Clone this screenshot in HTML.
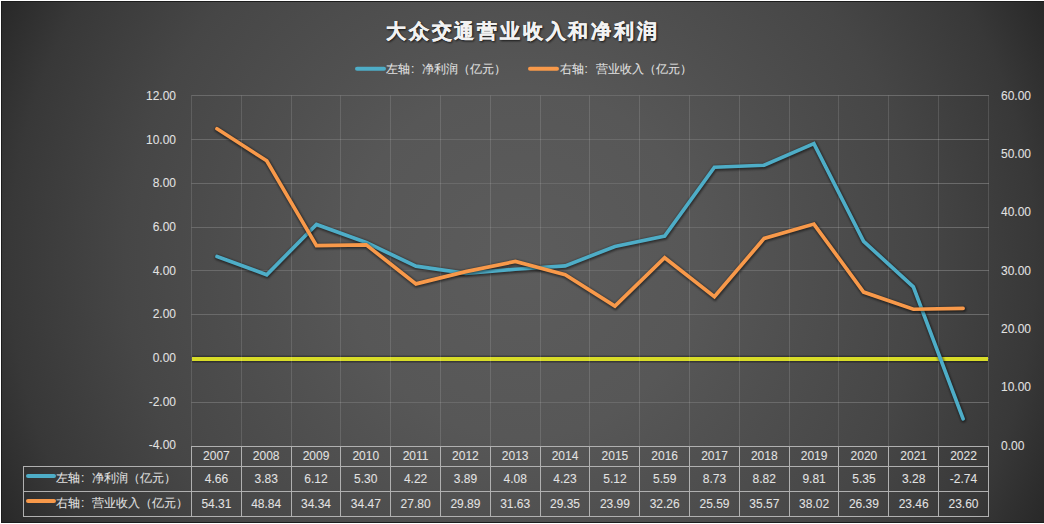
<!DOCTYPE html>
<html><head><meta charset="utf-8"><style>
html,body{margin:0;padding:0;background:#fff;width:1044px;height:524px;overflow:hidden}
#c{position:absolute;left:1px;top:1px;width:1043px;height:522px;
background:radial-gradient(circle farthest-corner at 50% 50%, #5c5c5c 0%, #575757 30%, #505050 45%, #464646 68%, #383838 88%, #282828 100%);}
#c::before{content:"";position:absolute;left:0;top:0;right:0;bottom:0;border:1px solid #1c1c1c;border-right:none}
svg{position:absolute;left:0;top:0}
.g{stroke:#6a6a6a;stroke-width:1}
.gv{stroke:rgba(255,255,255,0.125);stroke-width:1}
.t{stroke:#b0b0b0;stroke-width:1}
.s{fill:none;stroke-width:3.7;stroke-linejoin:miter;stroke-linecap:round}
.sh{fill:none;stroke:rgba(0,0,0,0.5);stroke-width:5.5;stroke-linejoin:miter;stroke-linecap:round}
.sw{stroke-width:4;stroke-linecap:round}
.l{font-family:'Liberation Sans', sans-serif;font-size:12px;fill:#e2e2e2;stroke:#e2e2e2;stroke-width:0.06px}
.ti{font-family:'Liberation Sans', sans-serif;font-size:20px;font-weight:bold;letter-spacing:2.8px;fill:#f2f2f2;stroke:#f2f2f2;stroke-width:0.35px}
.tsh{fill:rgba(0,0,0,0.6);stroke:rgba(0,0,0,0.6)}
</style></head><body>
<div id="c"></div>
<svg width="1044" height="524" viewBox="0 0 1044 524">
<defs>
<filter id="blur" x="-5%" y="-5%" width="110%" height="110%"><feGaussianBlur stdDeviation="0.8"/></filter>
<filter id="blur2" x="-5%" y="-20%" width="110%" height="140%"><feGaussianBlur stdDeviation="0.9"/></filter>
</defs>
<line x1="191.5" y1="95.5" x2="988.9" y2="95.5" class="g"/>
<line x1="191.5" y1="139.5" x2="988.9" y2="139.5" class="g"/>
<line x1="191.5" y1="183.5" x2="988.9" y2="183.5" class="g"/>
<line x1="191.5" y1="227.5" x2="988.9" y2="227.5" class="g"/>
<line x1="191.5" y1="270.5" x2="988.9" y2="270.5" class="g"/>
<line x1="191.5" y1="314.5" x2="988.9" y2="314.5" class="g"/>
<line x1="191.5" y1="358.5" x2="988.9" y2="358.5" class="g"/>
<line x1="191.5" y1="402.5" x2="988.9" y2="402.5" class="g"/>
<rect x="192" y="356.2" width="796" height="6" fill="rgba(0,0,0,0.5)" filter="url(#blur)"/>
<line x1="192" y1="359" x2="988" y2="359" stroke="#d8dc28" stroke-width="4"/>
<line x1="191.5" y1="95.5" x2="191.5" y2="446.5" class="gv"/>
<line x1="241.5" y1="95.5" x2="241.5" y2="446.5" class="gv"/>
<line x1="291.5" y1="95.5" x2="291.5" y2="446.5" class="gv"/>
<line x1="340.5" y1="95.5" x2="340.5" y2="446.5" class="gv"/>
<line x1="390.5" y1="95.5" x2="390.5" y2="446.5" class="gv"/>
<line x1="440.5" y1="95.5" x2="440.5" y2="446.5" class="gv"/>
<line x1="490.5" y1="95.5" x2="490.5" y2="446.5" class="gv"/>
<line x1="540.5" y1="95.5" x2="540.5" y2="446.5" class="gv"/>
<line x1="589.5" y1="95.5" x2="589.5" y2="446.5" class="gv"/>
<line x1="639.5" y1="95.5" x2="639.5" y2="446.5" class="gv"/>
<line x1="689.5" y1="95.5" x2="689.5" y2="446.5" class="gv"/>
<line x1="739.5" y1="95.5" x2="739.5" y2="446.5" class="gv"/>
<line x1="789.5" y1="95.5" x2="789.5" y2="446.5" class="gv"/>
<line x1="838.5" y1="95.5" x2="838.5" y2="446.5" class="gv"/>
<line x1="888.5" y1="95.5" x2="888.5" y2="446.5" class="gv"/>
<line x1="938.5" y1="95.5" x2="938.5" y2="446.5" class="gv"/>
<line x1="988.5" y1="95.5" x2="988.5" y2="446.5" class="gv"/>
<path d="M217.00,256.52 L266.74,274.73 L316.48,224.49 L366.22,242.48 L415.96,266.17 L465.70,273.41 L515.44,269.25 L565.18,265.95 L614.92,246.43 L664.66,236.12 L714.40,167.24 L764.14,165.26 L813.88,143.54 L863.62,241.38 L913.36,286.80 L963.10,418.86" transform="translate(0.5,0.9)" class="sh" filter="url(#blur)"/>
<path d="M217.00,256.52 L266.74,274.73 L316.48,224.49 L366.22,242.48 L415.96,266.17 L465.70,273.41 L515.44,269.25 L565.18,265.95 L614.92,246.43 L664.66,236.12 L714.40,167.24 L764.14,165.26 L813.88,143.54 L863.62,241.38 L913.36,286.80 L963.10,418.86" class="s" stroke="#4eadc7"/>
<path d="M217.00,128.79 L266.74,160.79 L316.48,245.61 L366.22,244.85 L415.96,283.87 L465.70,271.64 L515.44,261.46 L565.18,274.80 L614.92,306.16 L664.66,257.78 L714.40,296.80 L764.14,238.42 L813.88,224.08 L863.62,292.12 L913.36,309.26 L963.10,308.44" transform="translate(0.5,0.9)" class="sh" filter="url(#blur)"/>
<path d="M217.00,128.79 L266.74,160.79 L316.48,245.61 L366.22,244.85 L415.96,283.87 L465.70,271.64 L515.44,261.46 L565.18,274.80 L614.92,306.16 L664.66,257.78 L714.40,296.80 L764.14,238.42 L813.88,224.08 L863.62,292.12 L913.36,309.26 L963.10,308.44" class="s" stroke="#f8994a"/>
<line x1="191" y1="446.5" x2="989" y2="446.5" class="t"/>
<line x1="23.0" y1="466.5" x2="989" y2="466.5" class="t"/>
<line x1="23.0" y1="491.5" x2="989" y2="491.5" class="t"/>
<line x1="23.0" y1="516.5" x2="989" y2="516.5" class="t"/>
<line x1="23.5" y1="466.0" x2="23.5" y2="517.0" class="t"/>
<line x1="191.5" y1="446" x2="191.5" y2="517.0" class="t"/>
<line x1="241.5" y1="446" x2="241.5" y2="517.0" class="t"/>
<line x1="291.5" y1="446" x2="291.5" y2="517.0" class="t"/>
<line x1="340.5" y1="446" x2="340.5" y2="517.0" class="t"/>
<line x1="390.5" y1="446" x2="390.5" y2="517.0" class="t"/>
<line x1="440.5" y1="446" x2="440.5" y2="517.0" class="t"/>
<line x1="490.5" y1="446" x2="490.5" y2="517.0" class="t"/>
<line x1="540.5" y1="446" x2="540.5" y2="517.0" class="t"/>
<line x1="589.5" y1="446" x2="589.5" y2="517.0" class="t"/>
<line x1="639.5" y1="446" x2="639.5" y2="517.0" class="t"/>
<line x1="689.5" y1="446" x2="689.5" y2="517.0" class="t"/>
<line x1="739.5" y1="446" x2="739.5" y2="517.0" class="t"/>
<line x1="789.5" y1="446" x2="789.5" y2="517.0" class="t"/>
<line x1="838.5" y1="446" x2="838.5" y2="517.0" class="t"/>
<line x1="888.5" y1="446" x2="888.5" y2="517.0" class="t"/>
<line x1="938.5" y1="446" x2="938.5" y2="517.0" class="t"/>
<line x1="988.5" y1="446" x2="988.5" y2="517.0" class="t"/>
<text x="176" y="99.8" text-anchor="end" class="l">12.00</text>
<text x="176" y="143.5" text-anchor="end" class="l">10.00</text>
<text x="176" y="187.2" text-anchor="end" class="l">8.00</text>
<text x="176" y="230.9" text-anchor="end" class="l">6.00</text>
<text x="176" y="274.6" text-anchor="end" class="l">4.00</text>
<text x="176" y="318.3" text-anchor="end" class="l">2.00</text>
<text x="176" y="362.0" text-anchor="end" class="l">0.00</text>
<text x="176" y="405.7" text-anchor="end" class="l">-2.00</text>
<text x="176" y="449.4" text-anchor="end" class="l">-4.00</text>
<text x="1001" y="99.8" class="l">60.00</text>
<text x="1001" y="158.1" class="l">50.00</text>
<text x="1001" y="216.4" class="l">40.00</text>
<text x="1001" y="274.7" class="l">30.00</text>
<text x="1001" y="333.1" class="l">20.00</text>
<text x="1001" y="391.4" class="l">10.00</text>
<text x="1001" y="449.7" class="l">0.00</text>
<text x="216.4" y="460.3" text-anchor="middle" class="l">2007</text>
<text x="216.4" y="483.3" text-anchor="middle" class="l">4.66</text>
<text x="216.4" y="508.3" text-anchor="middle" class="l">54.31</text>
<text x="266.2" y="460.3" text-anchor="middle" class="l">2008</text>
<text x="266.2" y="483.3" text-anchor="middle" class="l">3.83</text>
<text x="266.2" y="508.3" text-anchor="middle" class="l">48.84</text>
<text x="316.0" y="460.3" text-anchor="middle" class="l">2009</text>
<text x="316.0" y="483.3" text-anchor="middle" class="l">6.12</text>
<text x="316.0" y="508.3" text-anchor="middle" class="l">34.34</text>
<text x="365.8" y="460.3" text-anchor="middle" class="l">2010</text>
<text x="365.8" y="483.3" text-anchor="middle" class="l">5.30</text>
<text x="365.8" y="508.3" text-anchor="middle" class="l">34.47</text>
<text x="415.6" y="460.3" text-anchor="middle" class="l">2011</text>
<text x="415.6" y="483.3" text-anchor="middle" class="l">4.22</text>
<text x="415.6" y="508.3" text-anchor="middle" class="l">27.80</text>
<text x="465.4" y="460.3" text-anchor="middle" class="l">2012</text>
<text x="465.4" y="483.3" text-anchor="middle" class="l">3.89</text>
<text x="465.4" y="508.3" text-anchor="middle" class="l">29.89</text>
<text x="515.2" y="460.3" text-anchor="middle" class="l">2013</text>
<text x="515.2" y="483.3" text-anchor="middle" class="l">4.08</text>
<text x="515.2" y="508.3" text-anchor="middle" class="l">31.63</text>
<text x="565.0" y="460.3" text-anchor="middle" class="l">2014</text>
<text x="565.0" y="483.3" text-anchor="middle" class="l">4.23</text>
<text x="565.0" y="508.3" text-anchor="middle" class="l">29.35</text>
<text x="614.9" y="460.3" text-anchor="middle" class="l">2015</text>
<text x="614.9" y="483.3" text-anchor="middle" class="l">5.12</text>
<text x="614.9" y="508.3" text-anchor="middle" class="l">23.99</text>
<text x="664.7" y="460.3" text-anchor="middle" class="l">2016</text>
<text x="664.7" y="483.3" text-anchor="middle" class="l">5.59</text>
<text x="664.7" y="508.3" text-anchor="middle" class="l">32.26</text>
<text x="714.5" y="460.3" text-anchor="middle" class="l">2017</text>
<text x="714.5" y="483.3" text-anchor="middle" class="l">8.73</text>
<text x="714.5" y="508.3" text-anchor="middle" class="l">25.59</text>
<text x="764.3" y="460.3" text-anchor="middle" class="l">2018</text>
<text x="764.3" y="483.3" text-anchor="middle" class="l">8.82</text>
<text x="764.3" y="508.3" text-anchor="middle" class="l">35.57</text>
<text x="814.1" y="460.3" text-anchor="middle" class="l">2019</text>
<text x="814.1" y="483.3" text-anchor="middle" class="l">9.81</text>
<text x="814.1" y="508.3" text-anchor="middle" class="l">38.02</text>
<text x="863.9" y="460.3" text-anchor="middle" class="l">2020</text>
<text x="863.9" y="483.3" text-anchor="middle" class="l">5.35</text>
<text x="863.9" y="508.3" text-anchor="middle" class="l">26.39</text>
<text x="913.7" y="460.3" text-anchor="middle" class="l">2021</text>
<text x="913.7" y="483.3" text-anchor="middle" class="l">3.28</text>
<text x="913.7" y="508.3" text-anchor="middle" class="l">23.46</text>
<text x="963.5" y="460.3" text-anchor="middle" class="l">2022</text>
<text x="963.5" y="483.3" text-anchor="middle" class="l">-2.74</text>
<text x="963.5" y="508.3" text-anchor="middle" class="l">23.60</text>
<line x1="28" y1="476" x2="54" y2="476" class="sw" stroke="#4eadc7"/>
<line x1="28" y1="501" x2="54" y2="501" class="sw" stroke="#f8994a"/>
<text x="56" y="482.1" class="l">左轴<tspan dx="1">:</tspan><tspan x="92">净利润（亿元）</tspan></text>
<text x="56" y="507.1" class="l">右轴<tspan dx="1">:</tspan><tspan x="92">营业收入（亿元）</tspan></text>
<line x1="357" y1="68.8" x2="384" y2="68.8" class="sw" stroke="#4eadc7"/>
<text x="386" y="73.2" class="l">左轴<tspan dx="1">:</tspan><tspan x="422">净利润（亿元）</tspan></text>
<line x1="530" y1="68.8" x2="557" y2="68.8" class="sw" stroke="#f8994a"/>
<text x="559.5" y="73.2" class="l">右轴<tspan dx="1">:</tspan><tspan x="595.5">营业收入（亿元）</tspan></text>
<text x="387" y="38.5" class="ti tsh" filter="url(#blur2)">大众交通营业收入和净利润</text>
<text x="386" y="37.5" class="ti">大众交通营业收入和净利润</text>
</svg>
</body></html>
